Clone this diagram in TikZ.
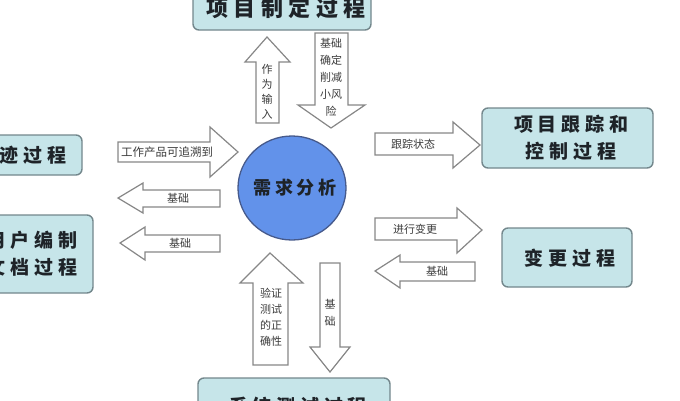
\documentclass[tikz,border=0pt]{standalone}
\usepackage{fontspec}
\newfontfamily\cjk{Noto Sans CJK SC}
\newfontfamily\cjksp{Noto Sans CJK SC}[LetterSpace=25]
\definecolor{boxfill}{RGB}{198,229,233}
\definecolor{boxdraw}{RGB}{115,135,140}
\definecolor{circfill}{RGB}{98,146,234}
\definecolor{circdraw}{RGB}{70,90,140}
\definecolor{arrdraw}{RGB}{135,135,135}
\definecolor{arrtext}{RGB}{60,60,60}
\definecolor{boxtext}{RGB}{30,35,40}
\tikzset{
  procbox/.style={draw=boxdraw,fill=boxfill,line width=1.4pt,rounded corners=6pt},
  blockarr/.style={draw=arrdraw,fill=white,line width=1.2pt,line join=miter},
  boxlabel/.style={text=boxtext,font=\cjksp\bfseries\fontsize{19}{27}\selectfont,align=center,inner sep=0pt},
  arrlabel/.style={text=arrtext,font=\cjk\fontsize{11}{16}\selectfont,align=center,inner sep=0pt},
}
\begin{document}
\begin{tikzpicture}[x=1pt,y=-1pt]
\useasboundingbox (0,0) rectangle (680,400);
\clip (0,0) rectangle (680,400);

% process boxes
\draw[procbox] (193,-20) rectangle (371,30);
\node[boxlabel,font=\cjksp\bfseries\fontsize{22}{27}\selectfont] (top) at (286,8) {项目制定过程};
\draw[procbox] (-20,135) rectangle (82,175);
\node[boxlabel] (left1) at (33,155) {迹过程};
\draw[procbox] (-20,215) rectangle (93,293);
\node[boxlabel] (left2) at (32,254) {用户编制\\文档过程};
\draw[procbox] (482,108) rectangle (653,168);
\node[boxlabel] (right1) at (571,138) {项目跟踪和\\控制过程};
\draw[procbox] (502,228) rectangle (632,287);
\node[boxlabel] (right2) at (570,258) {变更过程};
\draw[procbox] (198,378) rectangle (390,430);
\node[boxlabel] (bottom) at (298,406) {系统测试过程};

% central circle
\draw[draw=circdraw,fill=circfill,line width=1.3pt] (292,188) ellipse (54pt and 52pt);
\node[text=boxtext,font=\cjk\bfseries\fontsize{18}{20}\selectfont,inner sep=0pt] (req) at (295,188) {\addfontfeature{LetterSpace=22}需求分析};

% top arrows
\draw[blockarr] (256,123) -- (256,62) -- (245,62) -- (267,37) -- (290,62) -- (279,62) -- (279,123) -- cycle;
\node[arrlabel,font=\cjk\fontsize{11}{15}\selectfont] (inp) at (267,92) {作\\为\\输\\入};
\draw[blockarr] (315,33) -- (348,33) -- (348,105) -- (365,105) -- (331,128) -- (298,105) -- (315,105) -- cycle;
\node[arrlabel,font=\cjk\fontsize{11}{17}\selectfont] (risk) at (331,77) {基础\\确定\\削减\\小风\\险};

% left arrows
\draw[blockarr] (118,142) -- (210,142) -- (210,127) -- (238,152) -- (210,177) -- (210,162) -- (118,162) -- cycle;
\node[arrlabel,font=\cjk\fontsize{11.5}{14}\selectfont] (trace) at (167,152) {工作产品可追溯到};
\draw[blockarr] (220,190) -- (220,207) -- (143,207) -- (143,213) -- (118,198) -- (143,183) -- (143,190) -- cycle;
\node[arrlabel] (base1) at (178,198) {基础};
\draw[blockarr] (220,235) -- (220,252) -- (145,252) -- (145,260) -- (120,243) -- (145,227) -- (145,235) -- cycle;
\node[arrlabel] (base2) at (180,243) {基础};

% right arrows
\draw[blockarr] (375,133) -- (453,133) -- (453,122) -- (480,145) -- (453,168) -- (453,155) -- (375,155) -- cycle;
\node[arrlabel] (track) at (413,144) {跟踪状态};
\draw[blockarr] (375,218) -- (457,218) -- (457,208) -- (482,230) -- (457,253) -- (457,240) -- (375,240) -- cycle;
\node[arrlabel] (change) at (415,229) {进行变更};
\draw[blockarr] (475,262) -- (475,281) -- (400,281) -- (400,288) -- (375,271) -- (400,255) -- (400,262) -- cycle;
\node[arrlabel] (base3) at (437,271) {基础};

% bottom arrows
\draw[blockarr] (253,365) -- (253,283) -- (240,283) -- (270,253) -- (303,283) -- (288,283) -- (288,365) -- cycle;
\node[arrlabel,font=\cjk\fontsize{11}{16}\selectfont] (verify) at (271,317) {验证\\测试\\的正\\确性};
\draw[blockarr] (320,263) -- (340,263) -- (340,347) -- (350,347) -- (330,372) -- (310,347) -- (320,347) -- cycle;
\node[arrlabel,font=\cjk\fontsize{11}{17}\selectfont] (base4) at (330,313) {基\\础};
\end{tikzpicture}
\end{document}
